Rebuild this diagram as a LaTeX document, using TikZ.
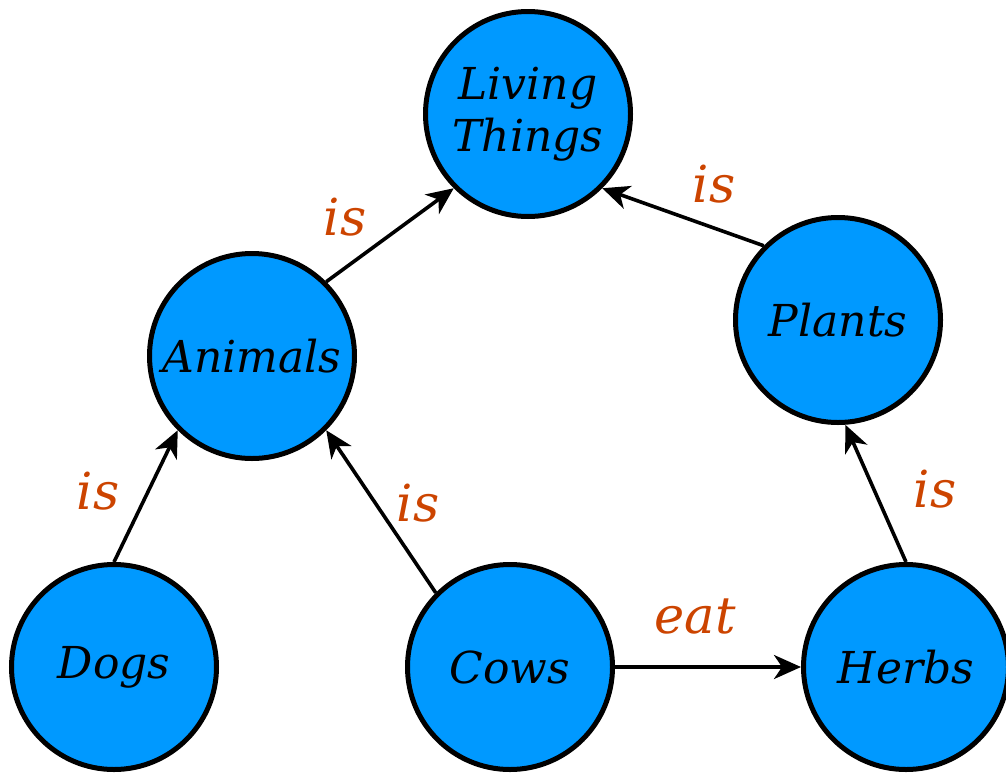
\documentclass[tikz,border=0pt]{standalone}
\usepackage{fontspec}
\newfontfamily\dvs{DejaVu Serif}
\usetikzlibrary{arrows.meta}
\definecolor{nodeblue}{RGB}{0,153,255}
\definecolor{labelorange}{RGB}{204,68,0}
\tikzset{
  concept/.style={circle, draw=black, line width=5pt, fill=nodeblue,
    minimum size=205pt, inner sep=0pt, align=center,
    font=\dvs\itshape\fontsize{44}{52}\selectfont},
  rel/.style={line width=3.6pt, -{Stealth[length=27pt,width=24pt,inset=8pt]}},
  rellabel/.style={anchor=base, inner sep=0pt, text=labelorange,
    font=\dvs\itshape\fontsize{51}{56}\selectfont}
}
\begin{document}
\begin{tikzpicture}[x=1pt,y=-1pt]
\useasboundingbox (0,0) rectangle (1006,774);
\clip (0,0) rectangle (1006,774);
\node[concept] (living) at (528,114) {Living\\Things};
\node[concept] (animals) at (252,356) {Animals};
\node[concept] (plants) at (838,320) {Plants};
\node[concept] (dogs) at (114,667) {Dogs};
\node[concept] (cows) at (510,667) {Cows};
\node[concept] (herbs) at (906,667) {Herbs};

\draw[rel] (animals.45) -- (living.225);
\draw[rel] (plants.135) -- (living.315);
\draw[rel] (dogs.90) -- (animals.225);
\draw[rel] (cows.135) -- (animals.315);
\draw[rel] (herbs.90) -- (plants.274);
\draw[rel] (cows.east) -- (herbs.west);

\node[rellabel] (l1) at (345,235) {is};
\node[rellabel] (l2) at (714,202) {is};
\node[rellabel] (l3) at (98,509) {is};
\node[rellabel] (l4) at (418,521) {is};
\node[rellabel] (l5) at (935,507) {is};
\node[rellabel] (l6) at (695,633) {eat};
\end{tikzpicture}
\end{document}
